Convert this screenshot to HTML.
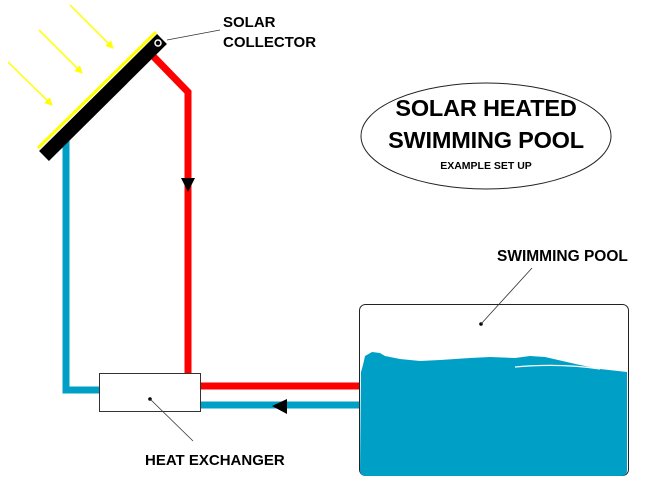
<!DOCTYPE html>
<html><head><meta charset="utf-8"><style>
html,body{margin:0;padding:0;background:#fff;}
svg{display:block;font-family:"Liberation Sans",Arial,sans-serif;font-weight:bold;}
</style></head><body>
<svg width="645" height="491" viewBox="0 0 645 491" xmlns="http://www.w3.org/2000/svg">
<defs>
<marker id="ya" markerWidth="8" markerHeight="8" refX="7" refY="4" orient="auto" markerUnits="userSpaceOnUse" viewBox="0 0 8 8">
<path d="M0,0 L8,4 L0,8 z" fill="#ffff00"/></marker>
</defs>
<g stroke="#ffff00" stroke-width="1.5" marker-end="url(#ya)">
<line x1="8" y1="62" x2="52" y2="105"/>
<line x1="39" y1="30" x2="82" y2="73"/>
<line x1="70" y1="5" x2="113" y2="48"/>
</g>
<polyline points="66,140 66,390 100,390" fill="none" stroke="#00a0c6" stroke-width="7"/>
<line x1="200" y1="405" x2="360" y2="405" stroke="#00a0c6" stroke-width="7"/>
<polyline points="152,55 188,92 188,375" fill="none" stroke="#ff0000" stroke-width="7" stroke-linejoin="miter"/>
<line x1="200" y1="386" x2="360" y2="386" stroke="#ff0000" stroke-width="7"/>
<path d="M181,178 L195,178 L188,192 z" fill="#000"/>
<path d="M272,406 L287,399 L287,414 z" fill="#000"/>
<line x1="38" y1="148" x2="156" y2="32" stroke="#ffff00" stroke-width="3"/>
<line x1="44" y1="156" x2="162" y2="39" stroke="#000" stroke-width="14"/>
<circle cx="158" cy="43" r="3" fill="none" stroke="#fff" stroke-width="1.5"/>
<line x1="167" y1="40" x2="220" y2="30" stroke="#333" stroke-width="0.8"/>
<text x="223" y="27" font-size="15">SOLAR</text>
<text x="223" y="47" font-size="15">COLLECTOR</text>
<rect x="99.5" y="373.5" width="101" height="38" fill="#fff" stroke="#333" stroke-width="1"/>
<circle cx="150" cy="399" r="1.8" fill="#000"/>
<line x1="150" y1="399" x2="193" y2="441" stroke="#333" stroke-width="0.8"/>
<text x="145" y="465" font-size="15">HEAT EXCHANGER</text>
<rect x="359.5" y="304.5" width="269" height="171" rx="6" fill="#fff" stroke="#222" stroke-width="1"/>
<path d="M361,372 L363,365 L365,356 L372,352 L380,353 L385,356 L400,359 L420,361 L440,360 L470,358 L490,357 L515,358 L530,356 L545,357 L580,365 L600,369 L627,372 L627,470 Q627,476 621,476 L366,476 Q360,476 360,470 Z" fill="#00a0c6"/>
<path d="M515,367 Q560,363 600,369" stroke="#fff" stroke-width="1.2" fill="none"/>
<circle cx="481" cy="324" r="1.8" fill="#000"/>
<line x1="481" y1="324" x2="532" y2="268" stroke="#333" stroke-width="0.8"/>
<text x="497" y="261" font-size="15.5">SWIMMING POOL</text>
<ellipse cx="486" cy="136" rx="125" ry="53" fill="#fff" stroke="#222" stroke-width="1"/>
<text x="486" y="116" font-size="23.5" text-anchor="middle" letter-spacing="-0.2">SOLAR HEATED</text>
<text x="486" y="148" font-size="23.5" text-anchor="middle" letter-spacing="-0.2">SWIMMING POOL</text>
<text x="486" y="169" font-size="10.5" text-anchor="middle">EXAMPLE SET UP</text>
</svg>
</body></html>
